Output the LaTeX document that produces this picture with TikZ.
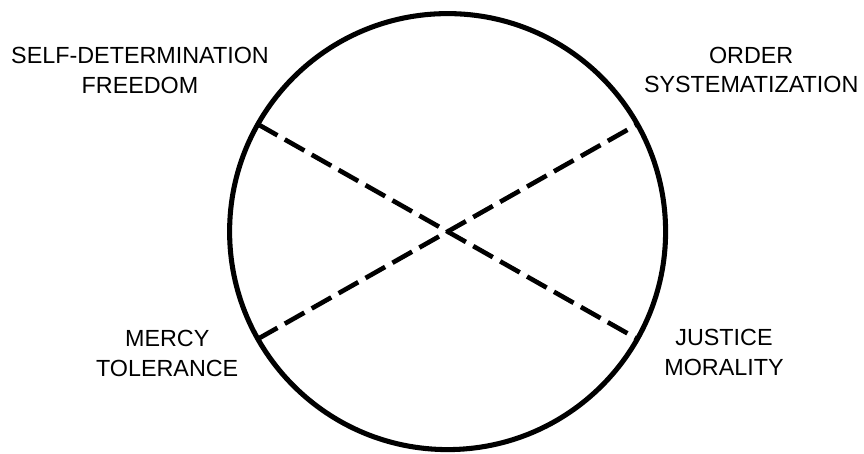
\documentclass[tikz,border=0pt]{standalone}
\usepackage{fontspec}
\setmainfont{Liberation Sans}

\begin{document}
\begin{tikzpicture}[line join=round,
  rim/.style={line width=3.6pt},
  split/.style={line width=3.3pt,dash pattern=on 16pt off 6pt},
  tag/.style={align=center,inner sep=0pt,font=\fontsize{16.6}{21.3}\selectfont}]
  \useasboundingbox (0,0) rectangle (21.6,11.35);
  \coordinate (O) at (11.19,5.56);
  \draw[rim] (O) circle (5.45);
  \path (O) ++(150.5:5.45) coordinate (SD);
  \path (O) ++(29.5:5.45) coordinate (OS);
  \path (O) ++(209.5:5.45) coordinate (MT);
  \path (O) ++(-29.5:5.45) coordinate (JM);
  \draw[split] (SD) -- (JM);
  \draw[split] (MT) -- (OS);
  \node[tag] (sdlab) at (3.50,9.58) {SELF-DETERMINATION\\FREEDOM};
  \node[tag] (oslab) at (18.78,9.60) {ORDER\\SYSTEMATIZATION};
  \node[tag] (mtlab) at (4.18,2.51) {MERCY\\TOLERANCE};
  \node[tag] (jmlab) at (18.10,2.53) {JUSTICE\\MORALITY};
\end{tikzpicture}
\end{document}
